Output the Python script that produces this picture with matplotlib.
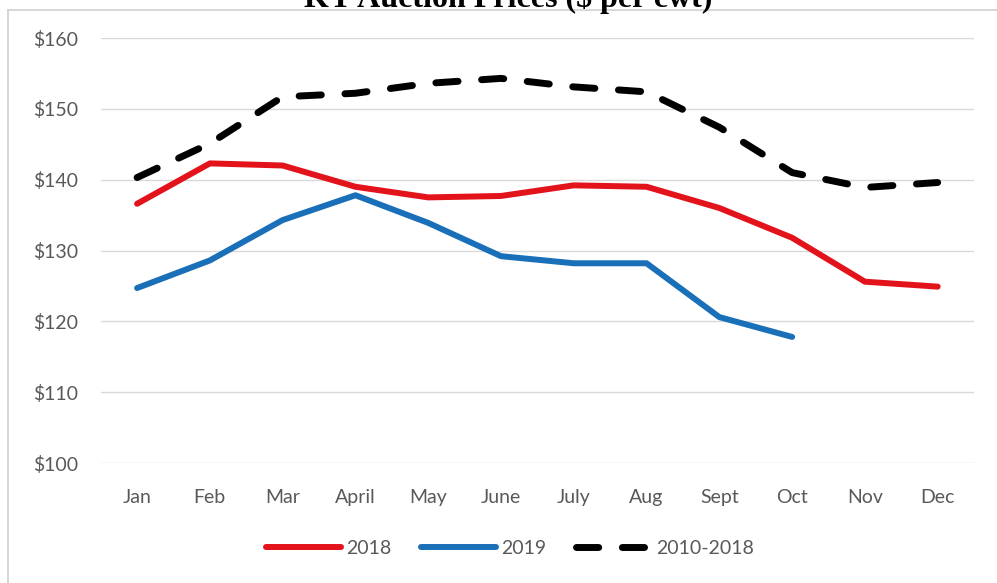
import matplotlib.pyplot as plt
from matplotlib.lines import Line2D

# Datos de la gráfica
meses = ["Jan", "Feb", "Mar", "April", "May", "June", "July", "Aug", "Sept", "Oct", "Nov", "Dec"]
precios_2018 = [136.6, 142.3, 142.0, 139.0, 137.5, 137.7, 139.2, 139.0, 136.0, 131.8, 125.6, 124.9]
precios_2019 = [124.7, 128.6, 134.3, 137.8, 133.9, 129.2, 128.2, 128.2, 120.6, 117.8]
promedio_2010_2018 = [140.3, 145.1, 151.7, 152.2, 153.6, 154.3, 153.1, 152.4, 147.4, 141.0, 138.9, 139.6]
ticks_y = [100, 110, 120, 130, 140, 150, 160]

plt.rcParams['font.family'] = ['Lato', 'DejaVu Sans']
gris = '#595959'

fig = plt.figure(figsize=(9.97, 5.83), dpi=100)
ax = fig.add_axes([0.101, 0.2058, 0.876, 0.729])

x = list(range(len(meses)))
ax.plot(x, precios_2018, color='#e3131b', lw=4.3, solid_capstyle='round', solid_joinstyle='round', label='2018')
ax.plot(x[:len(precios_2019)], precios_2019, color='#1a70b8', lw=4.3, solid_capstyle='round', solid_joinstyle='round', label='2019')
ax.plot(x, promedio_2010_2018, color='black', lw=5, dashes=(3.2, 3.4), dash_capstyle='round', label='2010-2018')

ax.set_xlim(-0.5, 11.5)
ax.set_ylim(100, 160)
ax.set_yticks(ticks_y)
ax.set_yticklabels([f"${v}" for v in ticks_y])
ax.set_xticks(x)
ax.set_xticklabels(meses)
ax.tick_params(axis='both', length=0, labelsize=14, labelcolor=gris)
ax.tick_params(axis='y', pad=16)
ax.tick_params(axis='x', pad=19)
ax.grid(axis='y', color='#d9d9d9', lw=1)
ax.set_axisbelow(True)
for s in ax.spines.values():
    s.set_visible(False)

# Título recortado en la parte superior
fig.text(0.51, 1 - 7 / 583, "KY Auction Prices ($ per cwt)", ha='center', va='baseline',
         fontsize=23, fontweight='bold', family='Liberation Serif')

# Marco del gráfico (solo arriba e izquierda)
borde = '#d0d0d0'
fig.lines.append(Line2D([8 / 997, 1], [1 - 10 / 583, 1 - 10 / 583], transform=fig.transFigure, color=borde, lw=1.2))
fig.lines.append(Line2D([8 / 997, 8 / 997], [0, 1 - 10 / 583], transform=fig.transFigure, color=borde, lw=1.2))

fig.legend(loc='center', bbox_to_anchor=(510 / 997, 1 - 548 / 583), ncol=3, frameon=False,
           fontsize=14, labelcolor=gris, handlelength=3.85, handletextpad=0.3, columnspacing=1.5)

fig.savefig('out.png', dpi=100)
